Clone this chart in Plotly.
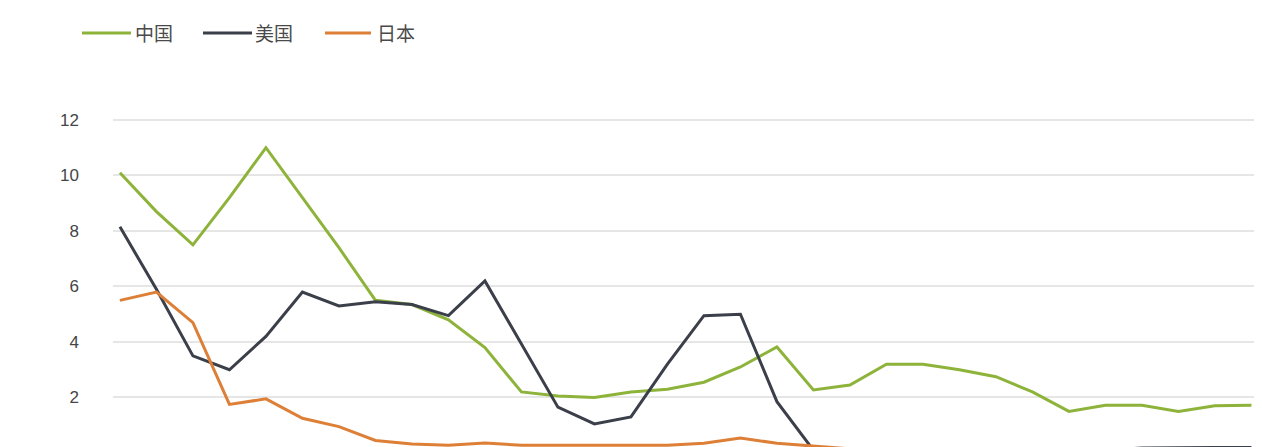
import plotly.graph_objects as go

years = list(range(1990, 2022))
china = [10.1, 8.7, 7.5, 9.2, 11.0, 9.2, 7.4, 5.5, 5.35, 4.8, 3.8, 2.2, 2.05, 2.0, 2.2, 2.3,
         2.55, 3.1, 3.82, 2.27, 2.45, 3.2, 3.2, 3.0, 2.75, 2.2, 1.5, 1.72, 1.72, 1.5, 1.7, 1.72]
us = [8.15, 5.9, 3.5, 3.0, 4.2, 5.8, 5.3, 5.45, 5.35, 4.95, 6.2, 3.9, 1.65, 1.05, 1.3, 3.2,
      4.95, 5.0, 1.85, 0.1, 0.1, 0.1, 0.1, 0.1, 0.1, 0.1, 0.1, 0.1, 0.18, 0.2, 0.2, 0.2]
japan = [5.5, 5.8, 4.7, 1.75, 1.95, 1.25, 0.95, 0.45, 0.32, 0.28, 0.36, 0.28, 0.28, 0.28, 0.28, 0.28,
         0.35, 0.54, 0.35, 0.25, 0.15, 0.15, 0.15, 0.15, 0.12, 0.1, 0.05, 0.05, 0.05, 0.05, 0.05, 0.05]
names = ["中国", "美国", "日本"]
colors = ["#8db33a", "#3b3f4a", "#dd7f36"]
ytick_vals = [0, 2, 4, 6, 8, 10, 12]

# page has an 8px body margin; figure sized to fit the 1262x447 window
W, H = 1254, 439
OFF = 8
L, R, T = 105, 4, 92

fig = go.Figure()
for name, vals, col in zip(names, [china, us, japan], colors):
    fig.add_trace(go.Scatter(x=years, y=vals, name=name, mode="lines",
                             line=dict(color=col, width=3), showlegend=False))

# legend drawn as line samples + real text labels (long sample lines as in the original)
legend_line_x = [(82, 131), (203, 252), (325, 371)]
legend_text_x = [133, 253, 375]
legend_y = 33
ly = 1 + (T - (legend_y - OFF)) / (H - T)
for name, col, (x0, x1), tx in zip(names, colors, legend_line_x, legend_text_x):
    fig.add_shape(type="line", xref="paper", yref="paper",
                  x0=(x0 - OFF - L) / (W - L - R), x1=(x1 - OFF - L) / (W - L - R),
                  y0=ly, y1=ly, line=dict(color=col, width=3))
    fig.add_annotation(text=name, showarrow=False, xref="paper", yref="paper",
                       x=(tx - OFF - L) / (W - L - R), y=ly,
                       xanchor="left", yanchor="middle",
                       font=dict(family="Noto Sans CJK SC", size=19, color="#4a4a4a"))

fig.update_layout(
    width=W, height=H,
    margin=dict(l=L, r=R, t=T, b=0),
    paper_bgcolor="white", plot_bgcolor="white",
    font=dict(family="Liberation Sans, Arial, sans-serif", color="#454545", size=17),
)
fig.update_xaxes(range=[1989.81, 2021.18], showticklabels=False, showgrid=False,
                 zeroline=False, showline=False, ticks="")
fig.update_yaxes(range=[0.216, 12.72], tickvals=ytick_vals, showgrid=True,
                 gridcolor="#e6e6e6", gridwidth=1.5, zeroline=False, showline=False,
                 ticks="", ticklabelstandoff=33)

fig.write_html("out.html")
